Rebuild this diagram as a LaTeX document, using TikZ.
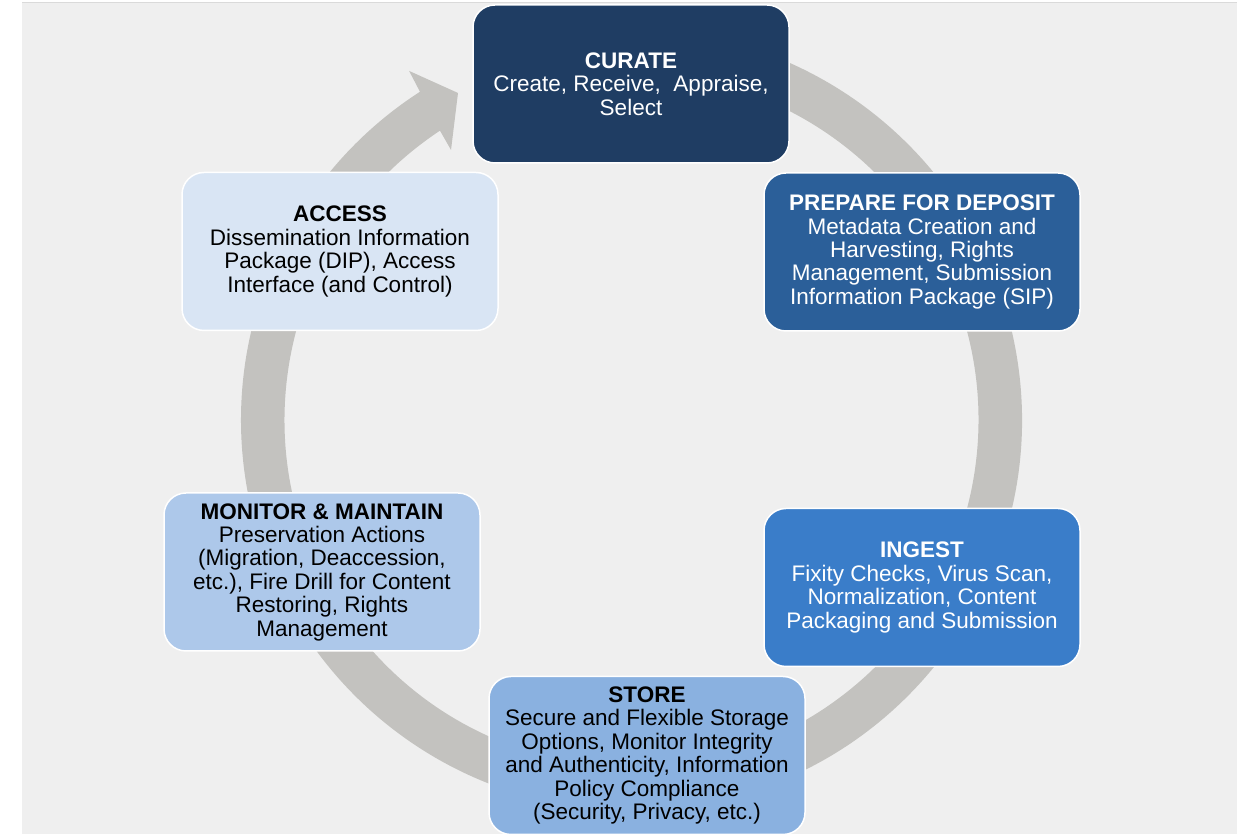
\documentclass[tikz,border=0pt]{standalone}
\usepackage{fontspec}
\setmainfont{Liberation Sans}
\usetikzlibrary{calc}
\definecolor{bg}{HTML}{EFEFEF}
\definecolor{bgline}{HTML}{DADADA}
\definecolor{ringc}{HTML}{C3C2BF}
\definecolor{cCurate}{HTML}{1F3D63}
\definecolor{cPrepare}{HTML}{2B5F99}
\definecolor{cIngest}{HTML}{3A7DC9}
\definecolor{cStore}{HTML}{8AB1E0}
\definecolor{cMonitor}{HTML}{ADC8EA}
\definecolor{cAccess}{HTML}{D9E5F4}
\begin{document}
\begin{tikzpicture}[x=1pt,y=1pt,
  box/.style={draw=white, line width=1.5pt, rounded corners=22pt,
    minimum width=316pt, minimum height=158pt, align=center, inner sep=0pt,
    font=\fontsize{22.5}{23.4}\selectfont},
  darkbox/.style={box, text=white},
  lightbox/.style={box, text=black}]
\useasboundingbox (0,0) rectangle (1237,834);
% background panel
\fill[bg] (22,0) rectangle (1237,831);
\draw[bgline, line width=1pt] (22,831) -- (1237,831);
% circular arrow
\coordinate (c) at (631.5,414);
\fill[ringc] ($(c)+(100:390.5)$) arc[start angle=100, end angle=-237.2, radius=390.5]
  -- ($(c)+(-237.5:413.9)$) -- ($(c)+(-242.05:370.2)$) -- ($(c)+(-236.24:324.8)$)
  -- ($(c)+(-236.5:347)$) arc[start angle=-236.5, end angle=100, radius=347] -- cycle;
% boxes
\node[darkbox, fill=cCurate] (curate) at (631,750) {\textbf{CURATE}\\Create, Receive,\ \ Appraise,\\Select};
\node[darkbox, fill=cPrepare] (prepare) at (922,582) {\textbf{PREPARE FOR DEPOSIT}\\Metadata Creation and\\Harvesting, Rights\\Management, Submission\\Information Package (SIP)};
\node[darkbox, fill=cIngest] (ingest) at (922,246.5) {\textbf{INGEST}\\Fixity Checks, Virus Scan,\\Normalization, Content\\Packaging and Submission};
\node[lightbox, fill=cStore] (store) at (647,78.5) {\textbf{STORE}\\Secure and Flexible Storage\\Options, Monitor Integrity\\and Authenticity, Information\\Policy Compliance\\(Security, Privacy, etc.)};
\node[lightbox, fill=cMonitor] (monitor) at (322,262) {\textbf{MONITOR \& MAINTAIN}\\Preservation Actions\\(Migration, Deaccession,\\etc.), Fire Drill for Content\\Restoring, Rights\\Management};
\node[lightbox, fill=cAccess] (access) at (340,582.5) {\textbf{ACCESS}\\Dissemination Information\\Package (DIP), Access\\Interface (and Control)};
\end{tikzpicture}
\end{document}
